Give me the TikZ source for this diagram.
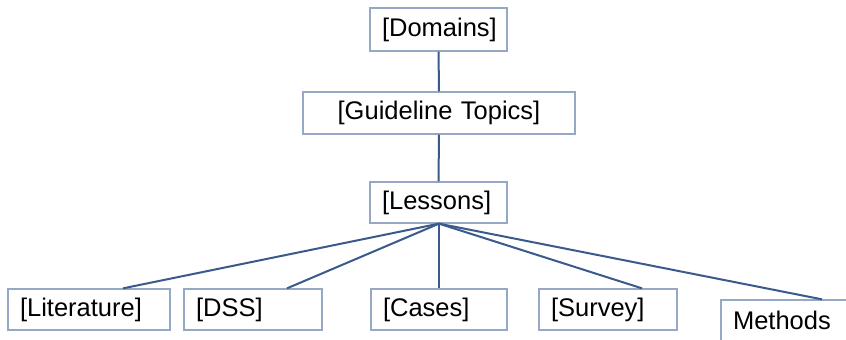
\documentclass[tikz,border=0pt]{standalone}
\usepackage{fontspec}
\setmainfont{Liberation Sans}
\definecolor{boxline}{HTML}{95A9C6}
\definecolor{conn}{HTML}{3B5A8C}
\begin{document}
\begin{tikzpicture}[x=1pt,y=-1pt,
  box/.style={draw=boxline, line width=1.3pt, fill=white, inner xsep=12pt, inner ysep=0pt,
    minimum height=41pt, align=left, font=\fontsize{25.5}{29}\selectfont},
  link/.style={draw=conn, line width=2pt}]
\useasboundingbox (0,0) rectangle (846,340);
\clip (0,0) rectangle (846,340);
\fill[white] (0,0) rectangle (846,340);
\node[box, text width=113pt, minimum height=43pt] (dom) at (438.5,29.5) {[Domains]};
\node[box, text width=248pt, minimum height=42pt, align=center] (gt) at (439,113) {[Guideline Topics]};
\node[box, text width=113pt] (les) at (438.5,202.5) {[Lessons]};
\node[box, text width=138pt] (lit) at (89,309.5) {[Literature]};
\node[box, text width=114pt] (dss) at (253,309.5) {[DSS]};
\node[box, text width=112pt] (cas) at (439,309.5) {[Cases]};
\node[box, text width=114pt] (sur) at (608,309.5) {[Survey]};
\node[box, text width=178pt] (met) at (822,320.5) {Methods};
\coordinate (litc) at ([xshift=34pt]lit.north);
\coordinate (dssc) at ([xshift=34pt]dss.north);
\coordinate (surc) at ([xshift=34pt]sur.north);
\coordinate (lesc) at ([xshift=0.5pt]les.south);
\draw[link] (dom) -- (gt);
\draw[link] (gt) -- (les);
\draw[link] (lesc) -- (litc);
\draw[link] (lesc) -- (dssc);
\draw[link] (lesc) -- (cas.north);
\draw[link] (lesc) -- (surc);
\draw[link] (lesc) -- (met.north);
\end{tikzpicture}
\end{document}
